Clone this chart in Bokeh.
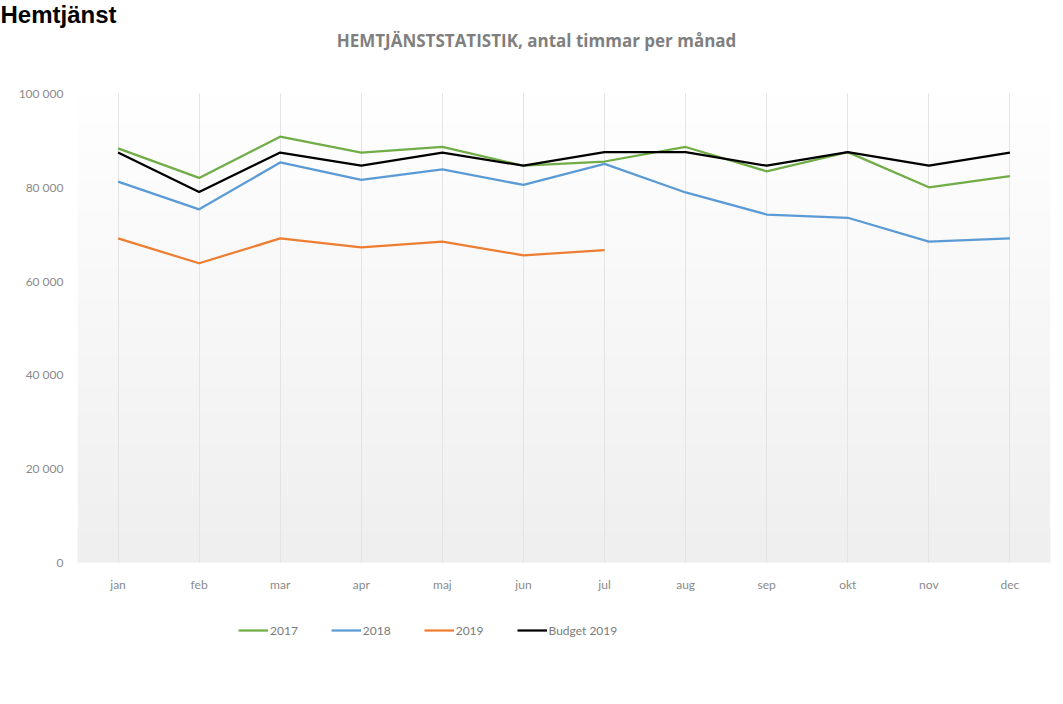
import numpy as np
from bokeh.plotting import figure
from bokeh.models import (FactorRange, Range1d, Legend, LegendItem, Label, FixedTicker)
from bokeh.embed import file_html
from bokeh.resources import INLINE

# ---- data ----
months = ["jan", "feb", "mar", "apr", "maj", "jun", "jul", "aug", "sep", "okt", "nov", "dec"]
y2017 = [88300, 82000, 90800, 87400, 88600, 84600, 85500, 88600, 83400, 87500, 80000, 82400]
y2018 = [81200, 75300, 85300, 81600, 83800, 80500, 85000, 78900, 74200, 73500, 68400, 69100]
y2019 = [69100, 63800, 69100, 67200, 68400, 65500, 66600]
budget2019 = [87400, 79000, 87400, 84600, 87400, 84600, 87500, 87500, 84600, 87500, 84600, 87400]
series_names = ["2017", "2018", "2019", "Budget 2019"]
y_ticks = [0, 20000, 40000, 60000, 80000, 100000]
y_tick_labels = ["0", "20 000", "40 000", "60 000", "80 000", "100 000"]
chart_title = "HEMTJÄNSTSTATISTIK, antal timmar per månad"
page_title = "Hemtjänst"

# ---- layout constants (pixels) ----
W, H = 1055, 696
FRAME_TOP, FRAME_BOTTOM = 29, 656        # extended frame so title/legend are not clipped
Y0_PX, Y100K_PX = 562, 93                # where 0 and 100 000 sit
ppu = (Y0_PX - Y100K_PX) / 100000.0
y_end = (Y0_PX - FRAME_TOP) / ppu
y_start = -(FRAME_BOTTOM - Y0_PX) / ppu

p = figure(width=W, height=H, title=page_title,
           x_range=FactorRange(factors=months, range_padding=0),
           y_range=Range1d(y_start, y_end),
           output_backend="svg", toolbar_location=None,
           min_border_left=77, min_border_right=5,
           min_border_top=FRAME_TOP, min_border_bottom=H - FRAME_BOTTOM)
p.outline_line_color = None
p.background_fill_color = "white"
p.border_fill_color = "white"

p.title.align = "left"
p.title.offset = -77
p.title.standoff = 0
p.title.vertical_align = "top"
p.title.text_font = "Liberation Sans"
p.title.text_font_style = "bold"
p.title.text_font_size = "24px"
p.title.text_color = "#000000"

# gradient plot-area background (white at top -> light grey at bottom)
n = 200
vals = np.linspace(239, 255, n).astype(np.uint8)
img = np.empty((n, 1), dtype=np.uint32)
view = img.view(dtype=np.uint8).reshape((n, 1, 4))
view[:, 0, 0] = vals
view[:, 0, 1] = vals
view[:, 0, 2] = vals
view[:, 0, 3] = 255
p.image_rgba(image=[img], x=0, y=0, dw=len(months), dh=100000, level="image")

r17 = p.line(months, y2017, line_color="#70ad47", line_width=2.25)
r18 = p.line(months, y2018, line_color="#5b9bd5", line_width=2.25)
r19 = p.line(months[:len(y2019)], y2019, line_color="#ed7d31", line_width=2.25)
rb = p.line(months, budget2019, line_color="#000000", line_width=2.25)

# axes
for ax in (p.xaxis[0], p.yaxis[0]):
    ax.axis_line_color = None
    ax.major_tick_line_color = None
    ax.minor_tick_line_color = None
    ax.major_label_text_font = "Lato"
    ax.major_label_text_font_size = "12px"
    ax.major_label_text_color = "#8a8a8a"
p.xaxis.fixed_location = 0
p.yaxis.ticker = FixedTicker(ticks=y_ticks)
p.yaxis.major_label_overrides = {t: l for t, l in zip(y_ticks, y_tick_labels)}
p.yaxis.major_label_standoff = 8
p.xaxis.major_label_standoff = 8

p.ygrid.grid_line_color = None
p.xgrid.grid_line_color = "#e4e4e4"
p.xgrid.grid_line_width = 1
p.xgrid.cross_bounds = (0, 100000)

# chart title inside the (extended) frame
p.add_layout(Label(x=5.661, y=(Y0_PX - 40) / ppu, text=chart_title,
                   text_align="center", text_baseline="middle",
                   text_font="Open Sans", text_font_style="bold",
                   text_font_size="17px", text_color="#7f7f7f"))

# legend below the x axis labels
legend = Legend(items=[LegendItem(label=series_names[0], renderers=[r17]),
                       LegendItem(label=series_names[1], renderers=[r18]),
                       LegendItem(label=series_names[2], renderers=[r19]),
                       LegendItem(label=series_names[3], renderers=[rb])],
                orientation="horizontal", location=(161, FRAME_BOTTOM - 640),
                padding=0, margin=0, spacing=33, glyph_width=30, glyph_height=20,
                label_standoff=2, label_text_font="Lato", label_text_font_size="12px",
                label_text_color="#7a7a7a", border_line_color=None,
                background_fill_alpha=0)
p.add_layout(legend)

open("out.html", "w").write(file_html(p, INLINE))
